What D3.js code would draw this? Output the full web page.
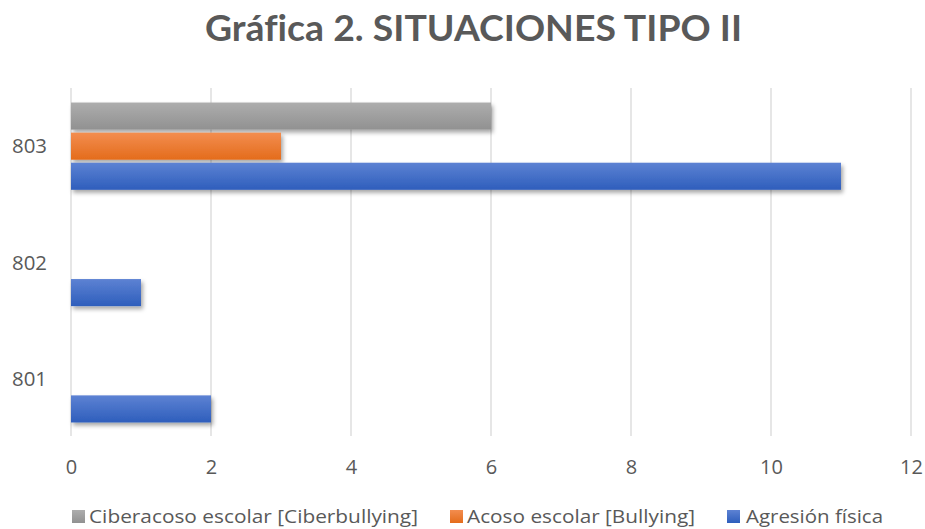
<!DOCTYPE html>
<html><head><meta charset="utf-8">
<script src="https://cdn.jsdelivr.net/npm/d3@7"></script>
<style>body{margin:0;background:#fff;} svg{display:block;} text{font-variant-ligatures:none;font-feature-settings:"liga" 0;}</style>
</head><body>
<script>
const categories = ["803", "802", "801"];
const seriesNames = ["Ciberacoso escolar [Ciberbullying]", "Acoso escolar [Bullying]", "Agresión física"];
const ciberacoso = [6, 0, 0];
const acoso = [3, 0, 0];
const agresion = [11, 1, 2];
const xTicks = [0, 2, 4, 6, 8, 10, 12];
const title = "Gráfica 2. SITUACIONES TIPO II";

const W = 925, H = 529;
const seriesValues = [ciberacoso, acoso, agresion];
const colors = [
  {top: "#adadad", bot: "#919191"},
  {top: "#f38d4f", bot: "#e46c1b"},
  {top: "#5d82d3", bot: "#2e5ebc"}
];
const svg = d3.select("body").append("svg").attr("width", W).attr("height", H);
const defs = svg.append("defs");
colors.forEach((c, i) => {
  const g = defs.append("linearGradient").attr("id", "g" + i).attr("x1", 0).attr("y1", 0).attr("x2", 0).attr("y2", 1);
  g.append("stop").attr("offset", "0%").attr("stop-color", c.top);
  g.append("stop").attr("offset", "100%").attr("stop-color", c.bot);
});
const f = defs.append("filter").attr("id", "sh").attr("x", "-10%").attr("y", "-30%").attr("width", "130%").attr("height", "190%");
f.append("feDropShadow").attr("dx", 2).attr("dy", 3).attr("stdDeviation", 2.2).attr("flood-color", "#000").attr("flood-opacity", 0.35);

const x = d3.scaleLinear().domain([0, 12]).range([71, 911]);
const y = d3.scaleBand().domain(categories).range([88, 437]).paddingInner(0.25).paddingOuter(0.125);
const yi = d3.scaleBand().domain(d3.range(3)).range([0, y.bandwidth()]).paddingInner(0.1);

const bodyFont = "'Open Sans', Lato, sans-serif";

// title
svg.append("text").attr("x", 473.5).attr("y", 41).attr("text-anchor", "middle")
  .attr("font-family", "Lato, 'Open Sans', sans-serif").attr("font-weight", "bold")
  .attr("font-size", 36).attr("fill", "#595959")
  .attr("textLength", 537).attr("lengthAdjust", "spacingAndGlyphs").text(title);

// gridlines
svg.append("g").selectAll("line").data(xTicks).join("line")
  .attr("x1", d => x(d)).attr("x2", d => x(d)).attr("y1", 88).attr("y2", 436)
  .attr("stroke", "#d9d9d9").attr("stroke-width", 1.3);

// x axis labels
const xa = svg.append("g").attr("transform", "translate(0,474)")
  .call(d3.axisBottom(x).tickValues(xTicks).tickSize(0).tickPadding(0));
xa.select(".domain").remove();
xa.selectAll("text").attr("dy", 0).attr("font-family", bodyFont)
  .attr("font-size", 20).attr("fill", "#595959");

// y axis labels
const ya = svg.append("g").attr("transform", "translate(47,0)")
  .call(d3.axisLeft(y).tickSize(0).tickPadding(0));
ya.select(".domain").remove();
ya.selectAll("text").attr("dy", "0.36em").attr("font-family", bodyFont)
  .attr("font-size", 20).attr("fill", "#595959")
  .attr("textLength", 35).attr("lengthAdjust", "spacingAndGlyphs");

// bars
seriesValues.forEach((vals, si) => {
  svg.append("g").selectAll("rect").data(vals.map((v, ci) => ({v, c: categories[ci]})).filter(d => d.v > 0))
    .join("rect")
    .attr("x", x(0)).attr("y", d => y(d.c) + yi(si))
    .attr("width", d => x(d.v) - x(0)).attr("height", yi.bandwidth())
    .attr("fill", "url(#g" + si + ")").attr("filter", "url(#sh)");
});

// legend
const legendItems = [
  {sx: 72, tx: 89, tw: 329},
  {sx: 450, tx: 467, tw: 228},
  {sx: 727, tx: 746, tw: 137}
];
const lg = svg.append("g");
seriesNames.forEach((name, i) => {
  const it = legendItems[i];
  lg.append("rect").attr("x", it.sx).attr("y", 510).attr("width", 13).attr("height", 13)
    .attr("fill", "url(#g" + i + ")");
  lg.append("text").attr("x", it.tx).attr("y", 523)
    .attr("font-family", bodyFont).attr("font-size", 18.5).attr("fill", "#595959")
    .attr("textLength", it.tw).attr("lengthAdjust", "spacingAndGlyphs").text(name);
});
</script>
</body></html>
